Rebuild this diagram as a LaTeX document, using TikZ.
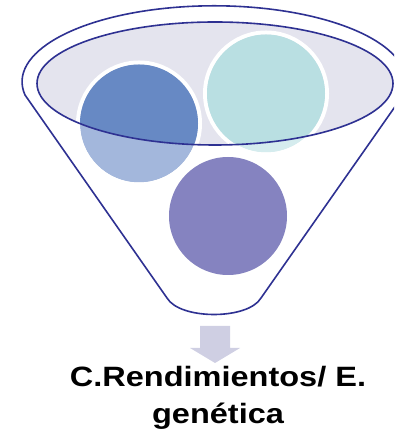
\documentclass[tikz,border=0pt]{standalone}
\usepackage{fontspec}
\setmainfont{Liberation Sans}
\usetikzlibrary{positioning}

\definecolor{rim}{RGB}{46,49,146}
\definecolor{glass}{RGB}{228,228,238}
\definecolor{blueA}{RGB}{103,137,196}
\definecolor{blueB}{RGB}{163,183,220}
\definecolor{tealA}{RGB}{185,223,226}
\definecolor{tealB}{RGB}{213,236,238}
\definecolor{lilac}{RGB}{133,131,192}
\definecolor{arrowfill}{RGB}{207,207,227}

\begin{document}
\begin{tikzpicture}[x = 1pt, y = 1pt, % one unit = one pixel
                rimline/.style = {draw = rim, line width = 1.6pt},
                ball/.style = {circle, minimum size = 118pt, inner sep = 0pt},
                ring/.style = {draw = white, line width = 4pt}
            ]

            \clip (0,0) rectangle (394,433);

            % funnel body
            \draw[rimline, fill = white] (25,338) arc[start angle = 190,
            end angle = -10, x radius = 192, y radius = 76] -- (261,135)
            .. controls (248,113) and (180,113) .. (167,135) -- cycle;

            % glass top
            \fill[glass] (215,349.5) ellipse[x radius = 178, y radius = 61.5];

            % balls, faded part outside the glass
            \node (1) [ball, fill = blueB] at (139,309.5) {};
            \node (2) [ball, fill = tealB] at (266,339.5) {};
            \node (3) [ball, fill = lilac] at (228,217) {};
            \draw[ring] (1.center) circle (61); \draw[ring] (2.center) circle (61);

            \begin{scope}
                \clip (215,349.5) ellipse[x radius = 178, y radius = 61.5];
                \fill[blueA] (1.center) circle (59);
                \fill[tealA] (2.center) circle (59);
            \end{scope}

            \draw[rimline] (215,349.5) ellipse[x radius = 178, y radius = 61.5];

            % block arrow
            \fill[arrowfill] (200,107) -- (230,107) -- (230,85) -- (240,85)
            -- (215,70) -- (190,85) -- (200,85) -- cycle;

            \node (out) [align = center, anchor = base, yscale = 0.86,
            font = \fontsize{32.5}{42}\selectfont\bfseries] at (218,10)
            {C.Rendimientos/ E.\\genética};
        \end{tikzpicture}
\end{document}
